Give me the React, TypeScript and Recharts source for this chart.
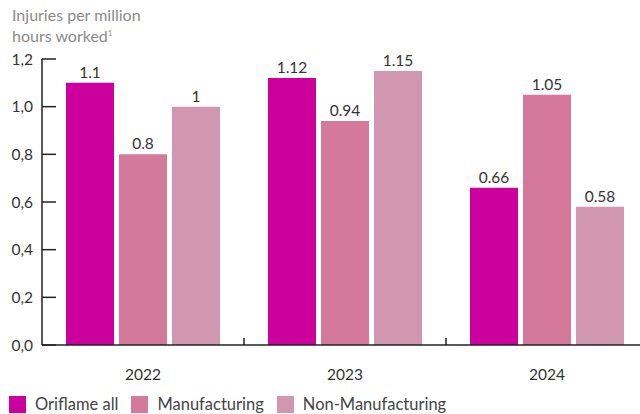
import { BarChart, Bar, XAxis, YAxis, Legend, LabelList } from 'recharts';

const years = ['2022', '2023', '2024'];
const oriflameAll = [1.1, 1.12, 0.66];
const manufacturing = [0.8, 0.94, 1.05];
const nonManufacturing = [1, 1.15, 0.58];
const yTicks = [0, 0.2, 0.4, 0.6, 0.8, 1.0, 1.2];

const seriesNames = ['Oriflame all', 'Manufacturing', 'Non-Manufacturing'];
const colors = ['#cc009c', '#d4799a', '#d197b1'];

const data = years.map((y, i) => ({
  year: y,
  all: oriflameAll[i],
  mfg: manufacturing[i],
  nonMfg: nonManufacturing[i],
}));

const FONT = 'Lato, "Noto Sans", sans-serif';

// category label plus a small upward tick on the boundary between bands
function YearTick(props: any) {
  const { x, y, payload, index, width, visibleTicksCount } = props;
  const band = width / visibleTicksCount;
  const edge = x + band / 2;
  return (
    <g>
      <text x={x} y={y + 35} textAnchor="middle" fill="#333" fontSize={15.5} fontFamily={FONT}>
        {payload.value}
      </text>
      {index < visibleTicksCount - 1 && (
        <line x1={edge} x2={edge} y1={y} y2={y - 7} stroke="#222" strokeWidth={1.5} />
      )}
    </g>
  );
}

function LegendBox() {
  return (
    <div style={{ height: 30, paddingTop: 10, boxSizing: 'border-box', display: 'flex', alignItems: 'center', fontFamily: FONT, fontSize: 16.5, color: '#444' }}>
      {seriesNames.map((n, i) => (
        <div key={n} style={{ display: 'flex', alignItems: 'center', marginLeft: i === 0 ? 9 : 13 }}>
          <span style={{ width: 17, height: 17, background: colors[i], display: 'inline-block', marginRight: 9 }} />
          <span>{n}</span>
        </div>
      ))}
    </div>
  );
}

export default function App() {
  return (
    <div style={{ position: 'absolute', left: 0, top: 0, width: 640, height: 414, overflow: 'hidden', background: '#fff' }}>
      <div style={{ position: 'absolute', left: 12, top: 5, fontFamily: FONT, fontSize: 16, lineHeight: '19px', color: '#8a8a8a', zIndex: 2 }}>
        Injuries per million
        <br />
        hours worked<sup style={{ fontSize: 8 }}>1</sup>
      </div>
      <BarChart
        width={660}
        height={414}
        data={data}
        margin={{ top: 59, right: 12, bottom: 0, left: 0 }}
        barCategoryGap={24}
        barGap={5}
      >
        <YAxis
          domain={[0, 1.2]}
          ticks={yTicks}
          width={42}
          tickSize={-14}
          tickMargin={23}
          interval={0}
          tickFormatter={(v: number) => v.toFixed(1).replace('.', ',')}
          tick={{ fill: '#333', fontSize: 15.5, fontFamily: FONT }}
          axisLine={{ stroke: '#222', strokeWidth: 1.5 }}
          tickLine={{ stroke: '#222', strokeWidth: 1.5 }}
        />
        <XAxis
          dataKey="year"
          height={39}
          tickSize={0}
          tickMargin={0}
          tickLine={false}
          axisLine={{ stroke: '#222', strokeWidth: 1.5 }}
          tick={<YearTick />}
        />
        <Legend verticalAlign="bottom" align="left" content={<LegendBox />} />
        <Bar dataKey="all" name={seriesNames[0]} fill={colors[0]} isAnimationActive={false}>
          <LabelList dataKey="all" position="top" fill="#333" fontSize={15.5} fontFamily={FONT} />
        </Bar>
        <Bar dataKey="mfg" name={seriesNames[1]} fill={colors[1]} isAnimationActive={false}>
          <LabelList dataKey="mfg" position="top" fill="#333" fontSize={15.5} fontFamily={FONT} />
        </Bar>
        <Bar dataKey="nonMfg" name={seriesNames[2]} fill={colors[2]} isAnimationActive={false}>
          <LabelList dataKey="nonMfg" position="top" fill="#333" fontSize={15.5} fontFamily={FONT} />
        </Bar>
      </BarChart>
    </div>
  );
}
